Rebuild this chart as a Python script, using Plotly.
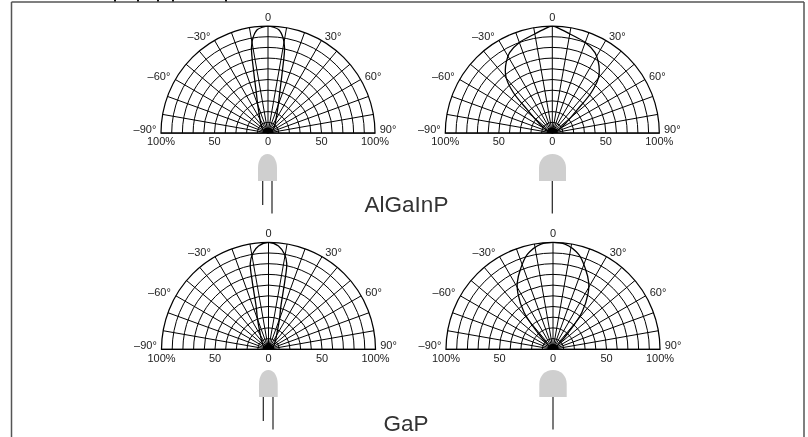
import plotly.graph_objects as go

W, H = 808, 437
FONT = "Liberation Sans"

# half-lobes, angle from the axis (degrees) and relative intensity (%)
theta_narrow_a = [0, 3, 6, 9, 11, 13, 16, 20, 30, 40, 60, 90]
r_narrow_a = [100, 99, 97, 90, 81, 60, 40, 28, 15, 10, 5, 0]
theta_wide_a = [0, 5, 10, 20, 28, 33, 37, 40, 44, 47, 52, 59, 90]
r_wide_a = [100, 97, 94, 90, 85, 79, 73, 67, 52, 32, 18, 9, 0]
theta_narrow_g = [0, 5.5, 9.6, 12, 13.5, 16, 20, 30, 40, 60, 90]
r_narrow_g = [100, 97, 90, 82, 65, 42, 30, 15, 10, 5, 0]
theta_wide_g = [0, 6.5, 15, 22, 28, 32, 38, 42.6, 46, 90]
r_wide_g = [100, 99, 92, 81, 71, 62, 44, 21, 9, 0]

angle_labels = ["0", "–30°", "30°", "–60°", "60°", "–90°", "90°"]
radial_labels = ["100%", "50", "0", "50", "100%"]
radial_values = [-100, -50, 0, 50, 100]
materials = ["AlGaInP", "GaP"]

R = 107
# label placement relative to each dial's centre, in pixels
label_dx = [0, -69, 65, -109, 105, -123, 120]
label_dy = [-115, -96, -96, -56, -56, -3, -3]

panels = [
    dict(cx=268.0, cy=133.0, t=theta_narrow_a, r=r_narrow_a),
    dict(cx=552.3, cy=133.0, t=theta_wide_a, r=r_wide_a),
    dict(cx=268.5, cy=349.3, t=theta_narrow_g, r=r_narrow_g),
    dict(cx=553.0, cy=349.3, t=theta_wide_g, r=r_wide_g),
]

fig = go.Figure()
layout = dict(
    width=W, height=H, margin=dict(l=0, r=0, t=0, b=0),
    paper_bgcolor="white", plot_bgcolor="rgba(0,0,0,0)", showlegend=False,
    xaxis=dict(range=[0, W], visible=False, domain=[0, 1], fixedrange=True),
    yaxis=dict(range=[H, 0], visible=False, domain=[0, 1], fixedrange=True),
)

angs = list(range(-90, 100, 10))
for i, p in enumerate(panels):
    name = "polar" if i == 0 else f"polar{i+1}"
    fig.add_trace(go.Scatterpolar(
        theta=[-a for a in reversed(p["t"])] + p["t"][1:],
        r=list(reversed(p["r"])) + p["r"][1:],
        mode="lines", line=dict(color="#000", width=1.3, shape="spline", smoothing=1),
        subplot=name, hoverinfo="skip"))
    fig.add_trace(go.Scatterpolar(
        theta=[0], r=[0], mode="markers", cliponaxis=True,
        marker=dict(color="#000", size=11, line=dict(width=0)),
        subplot=name, hoverinfo="skip"))
    layout[name] = dict(
        domain=dict(x=[(p["cx"] - R) / W, (p["cx"] + R) / W],
                    y=[1 - p["cy"] / H, 1 - (p["cy"] - R) / H]),
        sector=[0, 180], bgcolor="rgba(0,0,0,0)",
        angularaxis=dict(rotation=90, direction="clockwise", thetaunit="degrees",
                         tickmode="array", tickvals=angs, showticklabels=False,
                         showgrid=True, gridcolor="#000", gridwidth=1.25,
                         showline=True, linecolor="#000", linewidth=1.25, ticks=""),
        radialaxis=dict(range=[0, 100], tickmode="linear", tick0=0, dtick=10,
                        showgrid=True, gridcolor="#000", gridwidth=1.25,
                        showline=False, showticklabels=False, ticks=""),
    )
    fig.add_trace(go.Scatter(
        x=[p["cx"] + v / 100 * R for v in radial_values] + [p["cx"] + d for d in label_dx],
        y=[p["cy"] + 9.5] * 5 + [p["cy"] + d for d in label_dy],
        text=radial_labels + angle_labels, mode="text",
        textfont=dict(family=FONT, size=11, color="#222"), hoverinfo="skip",
        xaxis="x", yaxis="y"))

fig.add_trace(go.Scatter(x=[406.5, 406], y=[206, 425], text=materials, mode="text",
                         textfont=dict(family=FONT, size=22.5, color="#333"), hoverinfo="skip"))

def led(x0, x1, top, bot, shoulder):
    mid = (x0 + x1) / 2
    k = (x1 - x0) * 0.28
    return (f"M{x0},{bot} L{x0},{shoulder} C{x0},{shoulder-(shoulder-top)*0.6} {mid-k},{top} {mid},{top} "
            f"C{mid+k},{top} {x1},{shoulder-(shoulder-top)*0.6} {x1},{shoulder} L{x1},{bot} Z")

shapes = []
def add_path(path):
    shapes.append(dict(type="path", path=path, xref="x", yref="y", fillcolor="#cfcfcf", line=dict(width=0)))
def add_line(x0, y0, x1, y1, color="#222", width=1.2):
    shapes.append(dict(type="line", x0=x0, y0=y0, x1=x1, y1=y1, xref="x", yref="y",
                       line=dict(color=color, width=width)))

add_path(led(258, 277, 154, 181, 168))
add_line(262.7, 181, 262.7, 205)
add_line(272, 181, 272, 213.5)
add_path(led(539, 566, 154, 181, 168))
add_line(552.3, 181, 552.3, 213.5)
add_path(led(259, 277.7, 370, 397, 384))
add_line(263.3, 397, 263.3, 421)
add_line(273, 397, 273, 429.5)
add_path(led(539.3, 566.7, 370, 397, 384))
add_line(553, 397, 553, 429.5)

# frame
add_line(11.5, 2, 11.5, H, "#555", 1.5)
add_line(11.5, 2, 804, 2, "#555", 1.5)
add_line(804, 2, 804, H, "#555", 1.5)

# remnants of cropped text above the frame
for x in [115, 138, 158, 173, 226]:
    add_line(x, 0, x, 1.5, "#111", 2)

layout["shapes"] = shapes
fig.update_layout(**layout)
fig.write_html("out.html", config={"displayModeBar": False},
               post_script="document.body.style.margin='0';"
                           "document.querySelectorAll('.main-svg').forEach(s=>s.style.willChange='transform');")
